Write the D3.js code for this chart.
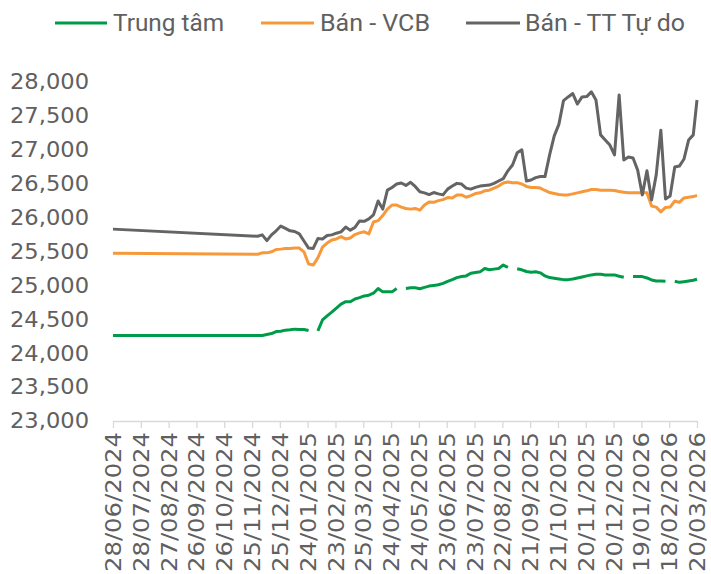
<!DOCTYPE html>
<html>
<head>
<meta charset="utf-8">
<script src="https://cdn.jsdelivr.net/npm/d3@7"></script>
<style>
  html, body { margin: 0; padding: 0; background: #ffffff; overflow: hidden; }
  svg { display: block; }
</style>
</head>
<body>
<script>
// ---------------- DATA ----------------
const tickLabels = ["28/06/2024","28/07/2024","27/08/2024","26/09/2024","26/10/2024","25/11/2024",
  "25/12/2024","24/01/2025","23/02/2025","25/03/2025","24/04/2025","24/05/2025","23/06/2025",
  "23/07/2025","22/08/2025","21/09/2025","21/10/2025","20/11/2025","20/12/2025","19/01/2026",
  "18/02/2026","20/03/2026"];

const yTicks = [23000, 23500, 24000, 24500, 25000, 25500, 26000, 26500, 27000, 27500, 28000];

const seriesNames = ["Trung tâm", "Bán - VCB", "Bán - TT Tự do"];

const dates = [
  "2024-06-28",
  "2024-12-01","2024-12-06","2024-12-11","2024-12-16","2024-12-21","2024-12-26","2024-12-31",
  "2025-01-05","2025-01-10","2025-01-15","2025-01-20","2025-01-25","2025-01-30",
  "2025-02-04","2025-02-09","2025-02-14","2025-02-19","2025-02-24",
  "2025-03-01","2025-03-06","2025-03-11","2025-03-16","2025-03-21","2025-03-26","2025-03-31",
  "2025-04-05","2025-04-10","2025-04-15","2025-04-20","2025-04-25","2025-04-30",
  "2025-05-05","2025-05-10","2025-05-15","2025-05-20","2025-05-25","2025-05-30",
  "2025-06-04","2025-06-09","2025-06-14","2025-06-19","2025-06-24","2025-06-29",
  "2025-07-04","2025-07-09","2025-07-14","2025-07-19","2025-07-24","2025-07-29",
  "2025-08-03","2025-08-08","2025-08-13","2025-08-18","2025-08-23","2025-08-28",
  "2025-09-02","2025-09-07","2025-09-12","2025-09-17","2025-09-22","2025-09-27",
  "2025-10-02","2025-10-07","2025-10-12","2025-10-17","2025-10-22","2025-10-27",
  "2025-11-01","2025-11-06","2025-11-11","2025-11-16","2025-11-21","2025-11-26",
  "2025-12-01","2025-12-06","2025-12-11","2025-12-16","2025-12-21","2025-12-26","2025-12-31",
  "2026-01-05","2026-01-10","2026-01-15","2026-01-20","2026-01-25","2026-01-30",
  "2026-02-04","2026-02-09","2026-02-14","2026-02-19","2026-02-24",
  "2026-03-01","2026-03-06","2026-03-11","2026-03-16","2026-03-20"
];

const trungTam = [
  24260,
  24260, 24260, 24275, 24290, 24320, 24325, 24340,
  24345, 24355, 24350, 24350, 24335, null,
  24330, 24490, 24550, 24605, 24665,
  24725, 24760, 24760, 24800, 24820, 24845, 24855,
  24885, 24955, 24905, 24905, 24905, 24955,
  null, 24955, 24965, 24965, 24950, 24970,
  24990, 25000, 25010, 25030, 25060, 25085,
  25115, 25130, 25140, 25180, 25190, 25200,
  25250, 25230, 25240, 25250, 25300, 25265,
  null, 25245, 25230, 25205, 25195, 25200,
  25185, 25140, 25115, 25105, 25095, 25085,
  25085, 25095, 25110, 25125, 25140, 25155,
  25165, 25165, 25155, 25155, 25155, 25135, 25120,
  null, 25130, 25130, 25130, 25110, 25080,
  25065, 25065, 25060, null, 25060,
  25045, 25055, 25065, 25075, 25090
];

const banVCB = [
  25475,
  25460, 25480, 25480, 25495, 25530, 25535, 25545,
  25545, 25550, 25550, 25495, 25315, 25300,
  25405, 25565, 25625, 25670, 25685,
  25720, 25685, 25700, 25750, 25775, 25790, 25760,
  25935, 25955, 26030, 26125, 26185, 26185,
  26155, 26135, 26125, 26135, 26110, 26185,
  26230, 26225, 26250, 26265, 26295, 26290,
  26335, 26335, 26300, 26325, 26355, 26365,
  26395, 26405, 26435, 26465, 26510, 26525,
  26515, 26515, 26495, 26460, 26445, 26445,
  26435, 26400, 26370, 26355, 26340, 26335,
  26335, 26350, 26365, 26380, 26395, 26415,
  26415, 26405, 26405, 26405, 26400, 26385, 26375,
  26365, 26365, 26365, 26365, 26365, 26170,
  26155, 26085, 26150, 26155, 26245,
  26225, 26290, 26300, 26310, 26325
];

const banTuDo = [
  25830,
  25725, 25745, 25660, 25745, 25805, 25875, 25840,
  25805, 25795, 25760, 25655, 25550, 25545,
  25690, 25685, 25735, 25745, 25770,
  25790, 25860, 25815, 25855, 25950, 25945, 25980,
  26040, 26245, 26125, 26405, 26445, 26495,
  26510, 26475, 26520, 26460, 26380, 26365,
  26340, 26370, 26350, 26335, 26420, 26465,
  26505, 26495, 26435, 26420, 26445, 26465,
  26475, 26480, 26505, 26540, 26575, 26690,
  26775, 26955, 27000, 26540, 26555, 26590,
  26605, 26605, 26925, 27205, 27375, 27725,
  27780, 27830, 27675, 27780, 27785, 27855,
  27735, 27220, 27145, 27070, 26925, 27810, 26850,
  26895, 26880, 26700, 26335, 26690, 26260,
  26630, 27290, 26275, 26320, 26745,
  26760, 26865, 27145, 27220, 27735
];

const colors = ["#009B48", "#F7993B", "#646464"];

// ---------------- CHART ----------------
const W = 711, H = 574;
const svg = d3.select("body").append("svg").attr("width", W).attr("height", H);

const parseDate = d3.timeParse("%Y-%m-%d");
const parseTick = d3.timeParse("%d/%m/%Y");
const tickDates = tickLabels.map(parseTick);

const x = d3.scaleTime()
  .domain([tickDates[0], tickDates[tickDates.length - 1]])
  .range([113, 697]);
const y = d3.scaleLinear().domain([23000, 28000]).range([421, 82]);

const labelFont = "DejaVu Sans, sans-serif";
const labelColor = "#606060";

// Y axis (labels only)
const yAxis = svg.append("g").attr("transform", "translate(113,0)")
  .call(d3.axisLeft(y).tickValues(yTicks).tickFormat(d3.format(",")).tickSize(0).tickPadding(24));
yAxis.select(".domain").remove();
yAxis.selectAll("text")
  .attr("font-family", labelFont)
  .attr("font-size", 21.5)
  .attr("fill", labelColor)
  .attr("textLength", 79)
  .attr("lengthAdjust", "spacingAndGlyphs");

// X axis
const xAxis = svg.append("g").attr("transform", "translate(0,421)")
  .call(d3.axisBottom(x).tickValues(tickDates).tickFormat(d3.timeFormat("%d/%m/%Y"))
    .tickSize(7).tickSizeOuter(0));
xAxis.select(".domain").attr("stroke", "#D9D9D9").attr("stroke-width", 1.3);
xAxis.selectAll(".tick line").attr("stroke", "#D9D9D9").attr("stroke-width", 1.3);
xAxis.selectAll("text")
  .attr("font-family", labelFont)
  .attr("font-size", 21.5)
  .attr("fill", labelColor)
  .attr("text-anchor", "end")
  .attr("transform", "rotate(-90)")
  .attr("x", -11)
  .attr("y", 0)
  .attr("dy", "0.35em")
  .attr("textLength", 140)
  .attr("lengthAdjust", "spacingAndGlyphs");

// Lines
const series = [trungTam, banVCB, banTuDo];
const parsedDates = dates.map(parseDate);
const line = d3.line()
  .defined(d => d.v != null)
  .x(d => x(d.t))
  .y(d => y(d.v));

series.forEach((vals, i) => {
  const pts = parsedDates.map((t, k) => ({ t, v: vals[k] }));
  svg.append("path")
    .datum(pts)
    .attr("d", line)
    .attr("fill", "none")
    .attr("stroke", colors[i])
    .attr("stroke-width", 3)
    .attr("stroke-linejoin", "round")
    .attr("stroke-linecap", "butt");
});

// Legend
const legendItems = [
  { x0: 55, x1: 107, tx: 113, tw: 111 },
  { x0: 261, x1: 314, tx: 320, tw: 110 },
  { x0: 466, x1: 520, tx: 525, tw: 160 }
];
const legendY = 23;
const lg = svg.append("g");
seriesNames.forEach((name, i) => {
  const it = legendItems[i];
  lg.append("line")
    .attr("x1", it.x0).attr("x2", it.x1)
    .attr("y1", legendY).attr("y2", legendY)
    .attr("stroke", colors[i]).attr("stroke-width", 3);
  lg.append("text")
    .attr("x", it.tx).attr("y", legendY)
    .attr("dy", "0.35em")
    .attr("font-family", "Liberation Sans Narrow, Roboto, sans-serif")
    .attr("font-size", 23)
    .attr("fill", labelColor)
    .attr("textLength", it.tw)
    .attr("lengthAdjust", "spacingAndGlyphs")
    .text(name);
});
</script>
</body>
</html>
